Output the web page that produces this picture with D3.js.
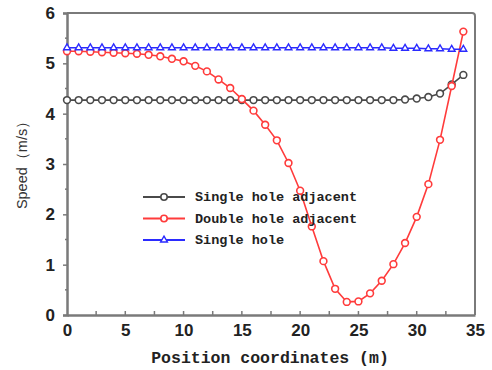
<!DOCTYPE html>
<html>
<head>
<meta charset="utf-8">
<script src="https://cdn.jsdelivr.net/npm/d3@7/dist/d3.min.js"></script>
<style>
  html, body { margin: 0; padding: 0; background: #fff; }
  svg { display: block; }
</style>
</head>
<body>
<div id="chart"></div>
<script>
// Position along the tunnel (m), one sample per metre
const positions = d3.range(0, 35);

const singleAdjacent = [
  4.27, 4.27, 4.27, 4.27, 4.27, 4.27, 4.27, 4.27, 4.27, 4.27,
  4.27, 4.27, 4.27, 4.27, 4.27, 4.27, 4.27, 4.27, 4.27, 4.27,
  4.27, 4.27, 4.27, 4.27, 4.27, 4.27, 4.27, 4.27, 4.27, 4.28,
  4.30, 4.33, 4.40, 4.58, 4.77
];
const doubleAdjacent = [
  5.24, 5.24, 5.23, 5.22, 5.21, 5.20, 5.19, 5.17, 5.14, 5.09,
  5.04, 4.95, 4.84, 4.68, 4.51, 4.29, 4.06, 3.78, 3.47, 3.02,
  2.47, 1.76, 1.07, 0.52, 0.26, 0.27, 0.43, 0.68, 1.01, 1.43,
  1.95, 2.60, 3.48, 4.55, 5.63
];
const singleHole = [
  5.31, 5.31, 5.31, 5.31, 5.31, 5.31, 5.31, 5.31, 5.31, 5.31,
  5.31, 5.31, 5.31, 5.31, 5.31, 5.31, 5.31, 5.31, 5.31, 5.31,
  5.31, 5.31, 5.31, 5.31, 5.31, 5.31, 5.31, 5.31, 5.30, 5.30,
  5.30, 5.29, 5.29, 5.28, 5.28
];

const seriesNames = ["Single hole adjacent", "Double hole adjacent", "Single hole"];
const xTicks = [0, 5, 10, 15, 20, 25, 30, 35];
const yTicks = [0, 1, 2, 3, 4, 5, 6];

const series = [
  { name: seriesNames[0], values: singleAdjacent, color: "#4a4a4a", marker: "circle" },
  { name: seriesNames[1], values: doubleAdjacent, color: "#ff3b3b", marker: "circle" },
  { name: seriesNames[2], values: singleHole, color: "#2b2bff", marker: "triangle" }
];

const W = 492, H = 370;
const margin = { top: 13, right: 17, bottom: 55, left: 67 };

const svg = d3.select("#chart").append("svg")
  .attr("width", W)
  .attr("height", H);

const x = d3.scaleLinear().domain([0, 35]).range([margin.left, W - margin.right]);
const y = d3.scaleLinear().domain([0, 6]).range([H - margin.bottom, margin.top]);

const axisColor = "#7a7a7a";
const tickFont = "Arial, 'Liberation Sans', sans-serif";

// frame: top and right border with rounded corner
svg.append("path")
  .attr("d", `M${x(0)},${y(6)} H${x(35) - 3} Q${x(35)},${y(6)} ${x(35)},${y(6) + 3} V${y(0)}`)
  .attr("fill", "none")
  .attr("stroke", axisColor)
  .attr("stroke-width", 2);

// bottom axis
const xAxis = svg.append("g")
  .attr("transform", `translate(0,${y(0)})`)
  .call(d3.axisBottom(x).tickValues(xTicks).tickFormat(d3.format("d")).tickSize(0).tickPadding(9));
xAxis.select(".domain").attr("stroke", axisColor).attr("stroke-width", 2.5);
xAxis.selectAll("text")
  .style("font-family", tickFont)
  .style("font-size", "17px")
  .style("font-weight", "bold")
  .attr("fill", "#222");
// inward minor ticks at every 2.5 m
svg.append("g")
  .selectAll("line")
  .data(d3.range(2.5, 35, 2.5))
  .join("line")
  .attr("x1", (d) => x(d)).attr("x2", (d) => x(d))
  .attr("y1", y(0)).attr("y2", y(0) - 4)
  .attr("stroke", axisColor)
  .attr("stroke-width", 1.5);

// left axis
const yAxis = svg.append("g")
  .attr("transform", `translate(${x(0)},0)`)
  .call(d3.axisLeft(y).tickValues(yTicks).tickFormat(d3.format("d")).tickSize(4).tickPadding(8));
yAxis.select(".domain").attr("stroke", axisColor).attr("stroke-width", 2.5);
yAxis.selectAll(".tick line").attr("stroke", axisColor).attr("stroke-width", 1.5);
yAxis.selectAll("text")
  .style("font-family", tickFont)
  .style("font-size", "17px")
  .style("font-weight", "bold")
  .attr("fill", "#222");
svg.append("g")
  .selectAll("line")
  .data(d3.range(0.5, 6, 1))
  .join("line")
  .attr("x1", x(0) - 2).attr("x2", x(0) + 1)
  .attr("y1", (d) => y(d)).attr("y2", (d) => y(d))
  .attr("stroke", axisColor)
  .attr("stroke-width", 1.5);

// axis titles
svg.append("text")
  .attr("x", (x(0) + x(35)) / 2 - 1)
  .attr("y", 363)
  .attr("text-anchor", "middle")
  .style("font-family", "'Liberation Mono', 'Courier New', monospace")
  .style("font-size", "16.5px")
  .style("font-weight", "bold")
  .attr("fill", "#222")
  .text("Position coordinates (m)");

svg.append("text")
  .attr("transform", `translate(27,${y(3.05)}) rotate(-90)`)
  .attr("text-anchor", "middle")
  .style("font-family", tickFont)
  .style("font-size", "14.5px")
  .attr("fill", "#333")
  .text("Speed（m/s）");

// lines and markers
const line = d3.line()
  .x((d, i) => x(positions[i]))
  .y((d) => y(d));

const triangle = d3.symbol().type(d3.symbolTriangle).size(20);

for (const s of series) {
  const g = svg.append("g");
  g.append("path")
    .datum(s.values)
    .attr("d", line)
    .attr("fill", "none")
    .attr("stroke", s.color)
    .attr("stroke-width", 1.6);
  if (s.marker === "circle") {
    g.selectAll("circle")
      .data(s.values)
      .join("circle")
      .attr("cx", (d, i) => x(positions[i]))
      .attr("cy", (d) => y(d))
      .attr("r", 3.4)
      .attr("fill", "#fff")
      .attr("stroke", s.color)
      .attr("stroke-width", 1.6);
  } else {
    g.selectAll("path.m")
      .data(s.values)
      .join("path")
      .attr("class", "m")
      .attr("transform", (d, i) => `translate(${x(positions[i])},${y(d)})`)
      .attr("d", triangle)
      .attr("fill", "#fff")
      .attr("stroke", s.color)
      .attr("stroke-width", 1.4);
  }
}

// legend
const legend = svg.append("g").attr("transform", "translate(143,197)");
series.forEach((s, i) => {
  const row = legend.append("g").attr("transform", `translate(0,${i * 21.5})`);
  row.append("line")
    .attr("x1", 0).attr("x2", 42)
    .attr("y1", 0).attr("y2", 0)
    .attr("stroke", s.color)
    .attr("stroke-width", 1.8);
  if (s.marker === "circle") {
    row.append("circle")
      .attr("cx", 21).attr("cy", 0).attr("r", 3.2)
      .attr("fill", "#fff").attr("stroke", s.color).attr("stroke-width", 1.6);
  } else {
    row.append("path")
      .attr("transform", "translate(21,0)")
      .attr("d", triangle)
      .attr("fill", "#fff").attr("stroke", s.color).attr("stroke-width", 1.4);
  }
  row.append("text")
    .attr("x", 52)
    .attr("y", 4)
    .style("font-family", "'Liberation Mono', 'Courier New', monospace")
    .style("font-size", "13.5px")
    .style("font-weight", "bold")
    .attr("fill", "#222")
    .text(s.name);
});
</script>
</body>
</html>
